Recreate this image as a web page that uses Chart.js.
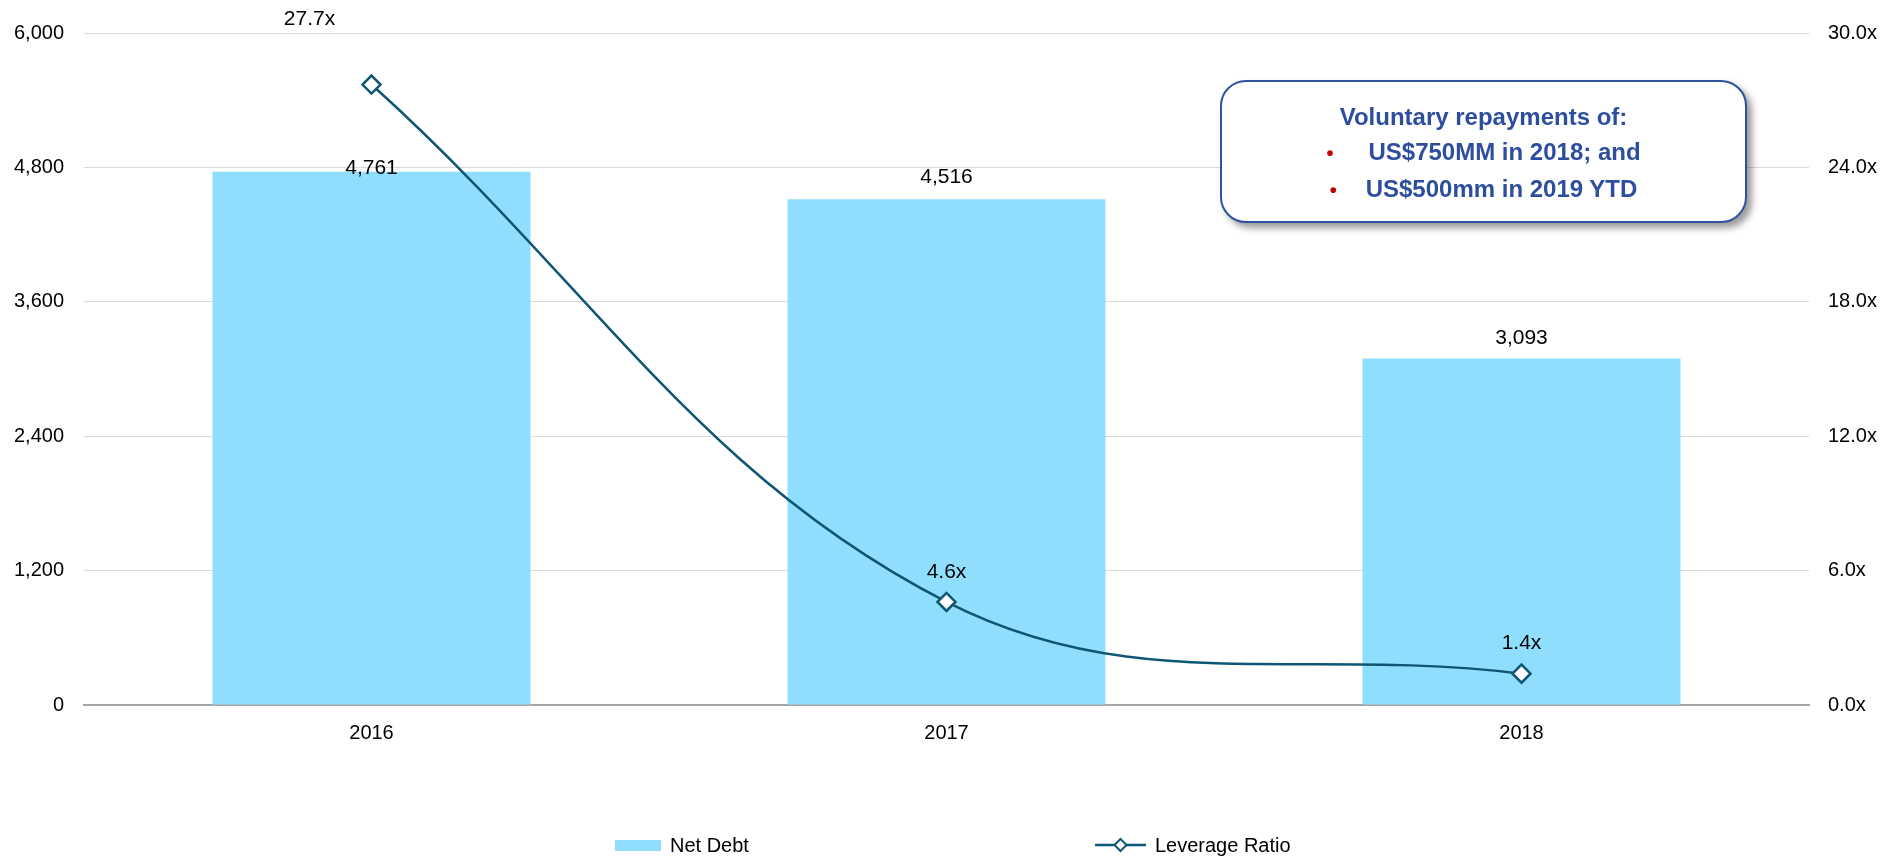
<!DOCTYPE html>
<html>
<head>
<meta charset="utf-8">
<title>Net Debt and Leverage Ratio</title>
<script src="https://cdn.jsdelivr.net/npm/chart.js@4.4.1/dist/chart.umd.min.js"></script>
<style>
  html, body { margin: 0; padding: 0; background: #fff; overflow: hidden; }
  #wrap { position: relative; width: 1902px; height: 857px; font-family: "Liberation Sans", Arial, sans-serif; }
  #chart { display: block; }
  #note {
    position: absolute; left: 1220px; top: 80px; width: 523px; height: 136px;
    border: 2px solid #2F52A0; border-radius: 26px; background: #fff;
    box-shadow: 5px 5px 7px rgba(0, 0, 0, 0.4);
    display: flex; flex-direction: column; justify-content: center; align-items: center;
    padding-top: 3px; box-sizing: content-box;
    color: #2D4E9E; font-weight: bold; font-size: 24px; line-height: 35px;
  }
  #note .dot { color: #C00000; font-size: 20px; }
  #legend {
    position: absolute; left: 0; top: 833px; width: 1902px; height: 24px;
    display: flex; justify-content: flex-start; align-items: center; gap: 346px;
    padding-left: 615px; box-sizing: border-box; font-size: 20px; color: #000;
  }
  #legend .item { display: flex; align-items: center; gap: 9px; }
</style>
</head>
<body>
<div id="wrap">
  <canvas id="chart" width="1902" height="857"></canvas>
  <div id="note">
    <div>Voluntary repayments of:</div>
    <div><span class="dot">&#8226;</span><span style="display:inline-block;width:35px"></span>US$750MM in 2018; and</div>
    <div><span class="dot">&#8226;</span><span style="display:inline-block;width:29px"></span>US$500mm in 2019 YTD</div>
  </div>
  <div id="legend"></div>
</div>
<script>
const years = ['2016', '2017', '2018'];
const netDebt = [4761, 4516, 3093];
const leverage = [27.7, 4.6, 1.4];

const debtMax = 6000, debtStep = 1200;
const ratioMax = 30, ratioStep = 6;

const barColor = '#8FDEFE';
const lineColor = '#0F5674';

Chart.defaults.font.family = '"Liberation Sans", Arial, sans-serif';
Chart.defaults.font.size = 20;
Chart.defaults.color = '#000';

// value labels above bars and line points, nudged where they would collide
const valueLabels = {
  id: 'valueLabels',
  afterDatasetsDraw(chart) {
    const ctx = chart.ctx;
    ctx.save();
    ctx.font = '21px "Liberation Sans", Arial, sans-serif';
    ctx.fillStyle = '#000';
    ctx.textAlign = 'center';
    ctx.textBaseline = 'middle';
    chart.data.datasets.forEach((ds, di) => {
      const meta = chart.getDatasetMeta(di);
      meta.data.forEach((el, i) => {
        const [dx, dy] = ds.labelShift[i];
        ctx.fillText(ds.labelFormat(ds.data[i]), el.x + dx, el.y + dy);
      });
    });
    ctx.restore();
  }
};

const chart = new Chart(document.getElementById('chart'), {
  type: 'bar',
  data: {
    labels: years,
    datasets: [
      {
        type: 'bar',
        label: 'Net Debt',
        data: netDebt,
        yAxisID: 'y',
        order: 1,
        backgroundColor: barColor,
        barPercentage: 0.553,
        categoryPercentage: 1,
        labelShift: [[0, -4], [0, -22], [0, -20]],
        labelFormat: v => v.toLocaleString('en-US')
      },
      {
        type: 'line',
        label: 'Leverage Ratio',
        data: leverage,
        yAxisID: 'y1',
        order: 0,
        borderColor: lineColor,
        borderWidth: 2.5,
        tension: 0.38,
        fill: false,
        pointStyle: 'rectRot',
        pointRadius: 9,
        pointBackgroundColor: '#fff',
        pointBorderColor: lineColor,
        pointBorderWidth: 2.5,
        labelShift: [[-62, -65], [0, -30], [0, -30]],
        labelFormat: v => v.toFixed(1) + 'x'
      }
    ]
  },
  options: {
    responsive: false,
    animation: false,
    layout: { padding: { top: 33, bottom: 112, left: 0, right: 0 } },
    plugins: { legend: { display: false }, tooltip: { enabled: false } },
    scales: {
      x: {
        grid: { display: false, drawTicks: false },
        border: { color: '#A6A6A6', width: 2 },
        ticks: { padding: 16 },
        afterFit: s => { s.height = 40; }
      },
      y: {
        position: 'left',
        min: 0,
        max: debtMax,
        ticks: { stepSize: debtStep, padding: 20, callback: v => v.toLocaleString('en-US') },
        grid: { color: '#D9D9D9', lineWidth: 1, drawTicks: false },
        border: { display: false },
        afterFit: s => { s.width = 84; }
      },
      y1: {
        position: 'right',
        min: 0,
        max: ratioMax,
        ticks: { stepSize: ratioStep, padding: 19, callback: v => v.toFixed(1) + 'x' },
        grid: { display: false, drawTicks: false },
        border: { display: false },
        afterFit: s => { s.width = 93; }
      }
    }
  },
  plugins: [valueLabels]
});

// HTML legend built from the datasets
const legend = document.getElementById('legend');
chart.data.datasets.forEach(ds => {
  const item = document.createElement('div');
  item.className = 'item';
  let marker;
  if (ds.type === 'bar') {
    marker = document.createElement('span');
    marker.style.cssText = `display:inline-block;width:46px;height:11px;background:${ds.backgroundColor}`;
  } else {
    marker = document.createElementNS('http://www.w3.org/2000/svg', 'svg');
    marker.setAttribute('width', '51');
    marker.setAttribute('height', '20');
    marker.innerHTML =
      `<line x1="0" y1="10" x2="51" y2="10" stroke="${ds.borderColor}" stroke-width="2.5"/>` +
      `<polygon points="25.5,4 31.5,10 25.5,16 19.5,10" fill="#fff" stroke="${ds.borderColor}" stroke-width="2"/>`;
  }
  const text = document.createElement('span');
  text.textContent = ds.label;
  item.appendChild(marker);
  item.appendChild(text);
  legend.appendChild(item);
});
</script>
</body>
</html>
